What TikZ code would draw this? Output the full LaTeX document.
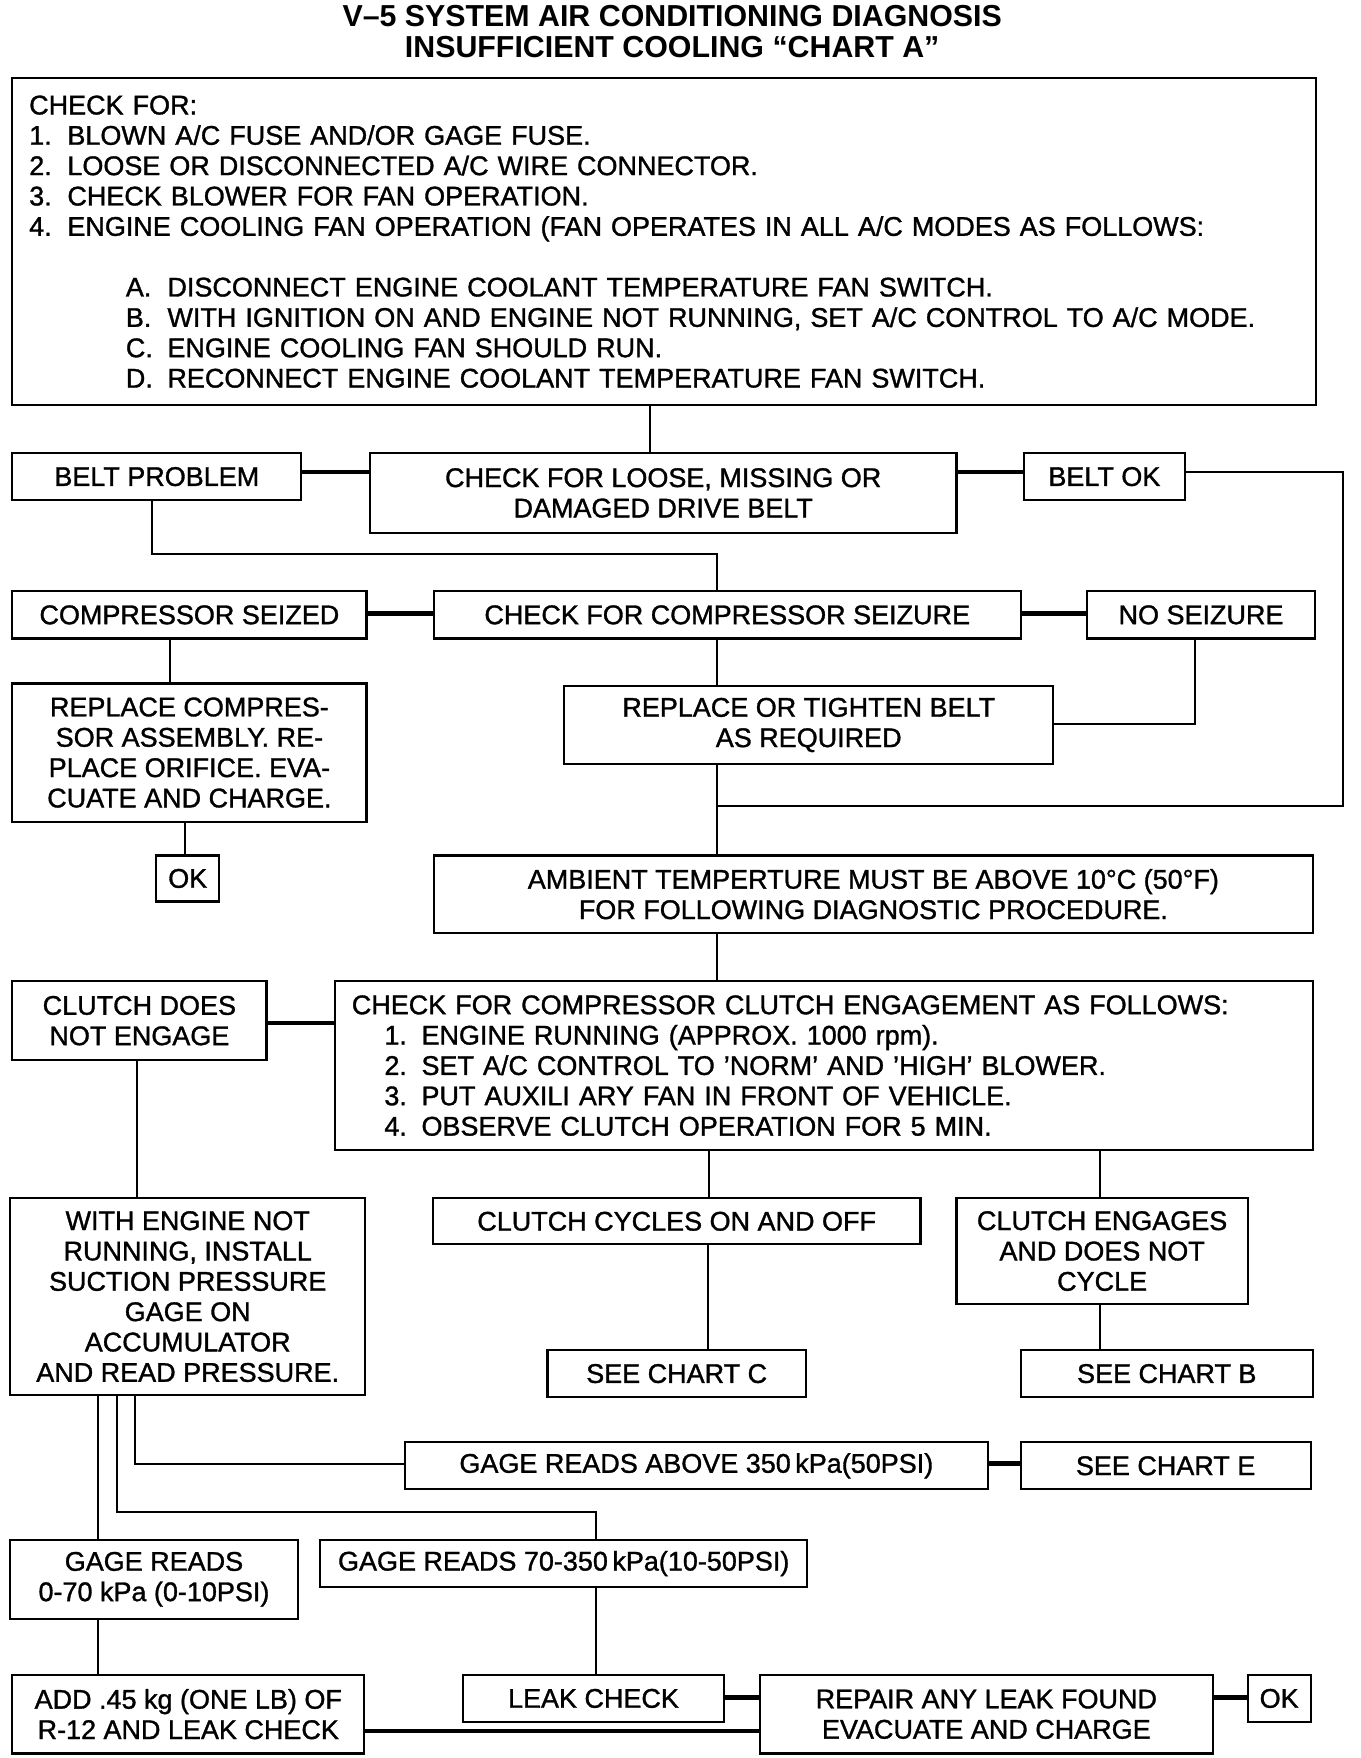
\documentclass[tikz,border=0pt]{standalone}
\usepackage{fontspec}
\setmainfont{Liberation Sans}[FakeBold=1.2,BoldFont=Liberation Sans Bold,BoldFeatures={FakeBold=0}]
\begin{document}
\begin{tikzpicture}[x=1pt,y=-1pt,
  box/.style={draw,line width=2pt,inner sep=0pt,align=center,font=\fontsize{24}{27}\selectfont},
  lbox/.style={draw,line width=2pt,inner ysep=0pt,inner xsep=15pt,align=left,font=\fontsize{24}{27}\selectfont},
  conn/.style={line width=1.8pt},
  thk/.style={line width=4pt}]
\useasboundingbox (0,0) rectangle (1210,1564);
\node[font=\bfseries\fontsize{27}{28}\selectfont,align=center] (title) at (598,28)
  {V--5 SYSTEM AIR CONDITIONING DIAGNOSIS\\INSUFFICIENT COOLING ``CHART A''};
\node[lbox,text width=1130pt,minimum height=291pt] (box1) at (591,215)
  {CHECK FOR:\\
   \makebox[34pt][l]{1.}BLOWN A/C FUSE AND/OR GAGE FUSE.\\
   \makebox[34pt][l]{2.}LOOSE OR DISCONNECTED A/C WIRE CONNECTOR.\\
   \makebox[34pt][l]{3.}CHECK BLOWER FOR FAN OPERATION.\\
   \makebox[34pt][l]{4.}ENGINE COOLING FAN OPERATION (FAN OPERATES IN ALL A/C MODES AS FOLLOWS:\\[27pt]
   \hspace*{86pt}\makebox[37pt][l]{A.}DISCONNECT ENGINE COOLANT TEMPERATURE FAN SWITCH.\\
   \hspace*{86pt}\makebox[37pt][l]{B.}WITH IGNITION ON AND ENGINE NOT RUNNING, SET A/C CONTROL TO A/C MODE.\\
   \hspace*{86pt}\makebox[37pt][l]{C.}ENGINE COOLING FAN SHOULD RUN.\\
   \hspace*{86pt}\makebox[37pt][l]{D.}RECONNECT ENGINE COOLANT TEMPERATURE FAN SWITCH.};
\node[box,minimum width=257pt,minimum height=42pt] (beltprob) at (139.5,424) {BELT PROBLEM};
\node[box,minimum width=522pt,minimum height=71pt] (checkbelt) at (590,438.5) {CHECK FOR LOOSE, MISSING OR\\DAMAGED DRIVE BELT};
\node[box,minimum width=143pt,minimum height=42pt] (beltok) at (982.5,424) {BELT OK};
\node[box,minimum width=315pt,minimum height=42pt] (compseized) at (168.5,547) {COMPRESSOR SEIZED};
\node[box,minimum width=522pt,minimum height=42pt] (checkseize) at (647,547) {CHECK FOR COMPRESSOR SEIZURE};
\node[box,minimum width=203pt,minimum height=42pt] (noseize) at (1068.5,547) {NO SEIZURE};
\node[box,minimum width=315pt,minimum height=123pt] (replcomp) at (168.5,669.5) {REPLACE COMPRES-\\SOR ASSEMBLY. RE-\\PLACE ORIFICE. EVA-\\CUATE AND CHARGE.};
\node[box,minimum width=56pt,minimum height=41pt] (ok1) at (167,781.5) {OK};
\node[box,minimum width=435pt,minimum height=70pt] (tighten) at (719.5,645) {REPLACE OR TIGHTEN BELT\\AS REQUIRED};
\node[box,minimum width=782pt,minimum height=69pt] (ambient) at (777,795.5) {AMBIENT TEMPERTURE MUST BE ABOVE 10°C (50°F)\\FOR FOLLOWING DIAGNOSTIC PROCEDURE.};
\node[box,minimum width=226pt,minimum height=70pt] (notengage) at (124,908) {CLUTCH DOES\\NOT ENGAGE};
\node[lbox,text width=840pt,minimum height=150pt] (clutchchk) at (733,948)
  {CHECK FOR COMPRESSOR CLUTCH ENGAGEMENT AS FOLLOWS:\\
   \hspace*{29pt}\makebox[33pt][l]{1.}ENGINE RUNNING (APPROX. 1000 rpm).\\
   \hspace*{29pt}\makebox[33pt][l]{2.}SET A/C CONTROL TO 'NORM' AND 'HIGH' BLOWER.\\
   \hspace*{29pt}\makebox[33pt][l]{3.}PUT AUXILI ARY FAN IN FRONT OF VEHICLE.\\
   \hspace*{29pt}\makebox[33pt][l]{4.}OBSERVE CLUTCH OPERATION FOR 5 MIN.};
\node[box,minimum width=316pt,minimum height=175pt] (withengine) at (167,1153.5) {WITH ENGINE NOT\\RUNNING, INSTALL\\SUCTION PRESSURE\\GAGE ON\\ACCUMULATOR\\AND READ PRESSURE.};
\node[box,minimum width=434pt,minimum height=41pt] (cycles) at (602,1086.5) {CLUTCH CYCLES ON AND OFF};
\node[box,minimum width=259pt,minimum height=94pt] (engages) at (980.5,1113) {CLUTCH ENGAGES\\AND DOES NOT\\CYCLE};
\node[box,minimum width=230pt,minimum height=42pt] (chartc) at (602,1222) {SEE CHART C};
\node[box,minimum width=260pt,minimum height=42pt] (chartb) at (1038,1222) {SEE CHART B};
\node[box,minimum width=519pt,minimum height=42pt] (above) at (619.5,1304) {GAGE READS ABOVE 350\,kPa(50PSI)};
\node[box,minimum width=258pt,minimum height=42pt] (charte) at (1037,1304) {SEE CHART E};
\node[box,minimum width=433pt,minimum height=42pt] (g70350) at (501.5,1391) {GAGE READS 70-350\,kPa(10-50PSI)};
\node[box,minimum width=256pt,minimum height=70pt] (g070) at (137,1405) {GAGE READS\\0-70 kPa (0-10PSI)};
\node[box,minimum width=313pt,minimum height=70pt] (add) at (167.5,1525) {ADD .45 kg (ONE LB) OF\\R-12 AND LEAK CHECK};
\node[box,minimum width=232pt,minimum height=42pt] (leak) at (528,1511) {LEAK CHECK};
\node[box,minimum width=403pt,minimum height=70pt] (repair) at (877.5,1525) {REPAIR ANY LEAK FOUND\\EVACUATE AND CHARGE};
\node[box,minimum width=56pt,minimum height=42pt] (ok2) at (1138,1511) {OK};
% junction coordinates
\coordinate (j1) at (638,717);
\coordinate (j2) at (1195,717);
% connectors
\draw[conn] (578,0 |- box1.south) -- (578,0 |- checkbelt.north);
\draw[thk] (beltprob.east |- 0,420) -- (checkbelt.west |- 0,420);
\draw[thk] (checkbelt.east |- 0,420) -- (beltok.west |- 0,420);
\draw[conn] (beltok.east |- 0,420) -- (1195,420) -- (j2) -- (j1);
\draw[conn] (135,0 |- beltprob.south) -- (135,493) -- (638,493) -- (638,0 |- checkseize.north);
\draw[thk] (compseized.east |- 0,546) -- (checkseize.west |- 0,546);
\draw[thk] (checkseize.east |- 0,546) -- (noseize.west |- 0,546);
\draw[conn] (151,0 |- compseized.south) -- (151,0 |- replcomp.north);
\draw[conn] (165,0 |- replcomp.south) -- (165,0 |- ok1.north);
\draw[conn] (638,0 |- checkseize.south) -- (638,0 |- tighten.north);
\draw[conn] (1063,0 |- noseize.south) -- (1063,644) -- (tighten.east |- 0,644);
\draw[conn] (638,0 |- tighten.south) -- (j1) -- (638,0 |- ambient.north);
\draw[conn] (638,0 |- ambient.south) -- (638,0 |- clutchchk.north);
\draw[thk] (notengage.east |- 0,910) -- (clutchchk.west |- 0,910);
\draw[conn] (122,0 |- notengage.south) -- (122,0 |- withengine.north);
\draw[conn] (631,0 |- clutchchk.south) -- (631,0 |- cycles.north);
\draw[conn] (979,0 |- clutchchk.south) -- (979,0 |- engages.north);
\draw[conn] (630,0 |- cycles.south) -- (630,0 |- chartc.north);
\draw[conn] (979,0 |- engages.south) -- (979,0 |- chartb.north);
\draw[conn] (120,0 |- withengine.south) -- (120,1302) -- (above.west |- 0,1302);
\draw[thk] (above.east |- 0,1302) -- (charte.west |- 0,1302);
\draw[conn] (104,0 |- withengine.south) -- (104,1345) -- (530,1345) -- (530,0 |- g70350.north);
\draw[conn] (87,0 |- withengine.south) -- (87,0 |- g070.north);
\draw[conn] (87,0 |- g070.south) -- (87,0 |- add.north);
\draw[conn] (530,0 |- g70350.south) -- (530,0 |- leak.north);
\draw[thk] (leak.east |- 0,1510) -- (repair.west |- 0,1510);
\draw[thk] (repair.east |- 0,1510) -- (ok2.west |- 0,1510);
\draw[thk] (add.east |- 0,1540) -- (repair.west |- 0,1540);
\end{tikzpicture}
\end{document}
